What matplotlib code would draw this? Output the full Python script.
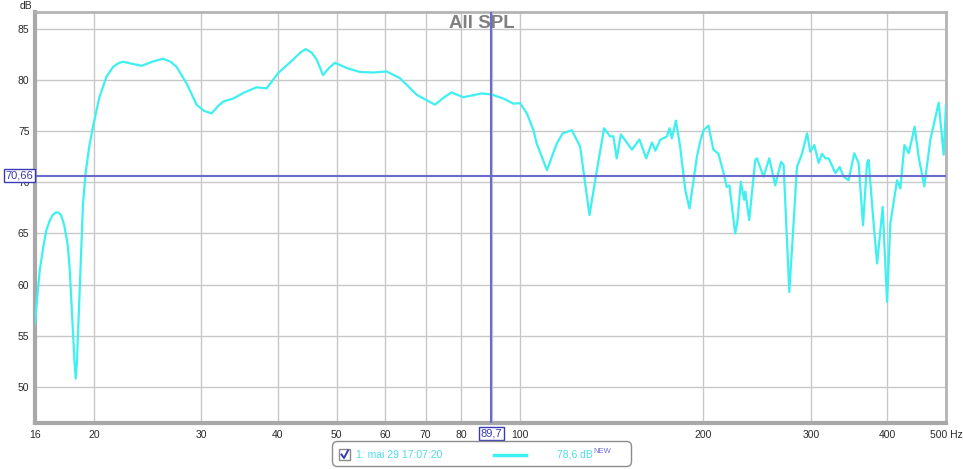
import matplotlib
matplotlib.use("Agg")
import matplotlib.pyplot as plt
from matplotlib.patches import FancyBboxPatch, Rectangle

plt.rcParams['font.family'] = ['Liberation Sans', 'DejaVu Sans']

# measured SPL curve (Hz, dB)
freq = [16.0, 16.15, 16.29, 16.5, 16.7, 16.9, 17.1, 17.3, 17.46, 17.65,
        17.85, 18.0, 18.12, 18.25, 18.36, 18.48, 18.58, 18.66, 18.75, 18.85,
        18.95, 19.07, 19.18, 19.38, 19.65, 19.92, 20.4, 20.96, 21.5, 21.9,
        22.32, 23.1, 23.93, 24.9, 25.96, 26.7, 27.32, 28.36, 29.46, 30.3,
        31.18, 32.0, 32.57, 33.83, 35.3, 36.96, 38.39, 40.1, 42.4, 43.6,
        44.5, 45.5, 46.4, 47.5, 48.6, 49.7, 51.9, 54.6, 57.5, 60.4,
        63.5, 67.7, 72.5, 75.0, 77.2, 80.7, 86.5, 89.8, 93.9, 97.5,
        100.0, 102.6, 105.2, 106.5, 110.7, 114.9, 117.5, 121.6, 125.5, 130.0,
        133.7, 137.4, 140.5, 142.3, 144.1, 146.4, 152.6, 157.0, 161.1, 164.6,
        166.8, 169.8, 174.2, 175.9, 177.5, 180.2, 183.1, 186.7, 189.7, 195.1,
        197.5, 200.0, 203.8, 207.6, 211.6, 215.8, 218.4, 220.6, 225.4, 227.3,
        230.3, 233.2, 234.2, 237.7, 243.2, 244.8, 250.9, 256.4, 262.3, 268.1,
        270.7, 276.6, 281.1, 284.7, 290.2, 295.8, 299.4, 304.0, 309.0, 313.0,
        316.9, 321.0, 329.2, 334.6, 339.7, 346.0, 353.6, 359.4, 365.4, 371.0,
        373.2, 379.6, 385.4, 393.6, 400.2, 405.2, 415.6, 420.8, 427.3, 434.3,
        444.2, 450.8, 460.6, 471.2, 486.4, 495.6, 500.0]
spl = [56.2, 59.0, 61.4, 63.6, 65.3, 66.2, 66.8, 67.05, 67.06, 66.8,
       65.9, 64.8, 63.7, 61.3, 58.2, 55.0, 52.3, 50.8, 52.5, 56.2,
       59.8, 64.0, 67.9, 71.0, 73.6, 75.45, 78.3, 80.35, 81.3, 81.65,
       81.8, 81.6, 81.4, 81.8, 82.1, 81.8, 81.3, 79.7, 77.6, 77.0,
       76.75, 77.5, 77.9, 78.2, 78.8, 79.3, 79.2, 80.7, 82.0, 82.7,
       83.04, 82.7, 82.0, 80.5, 81.2, 81.7, 81.2, 80.8, 80.75, 80.85,
       80.2, 78.56, 77.6, 78.3, 78.8, 78.33, 78.7, 78.6, 78.2, 77.7,
       77.75, 76.76, 75.1, 73.8, 71.2, 73.8, 74.8, 75.1, 73.5, 66.8,
       71.2, 75.3, 74.5, 74.5, 72.35, 74.7, 73.2, 74.2, 72.35, 73.9,
       73.1, 74.15, 74.5, 75.3, 74.3, 76.04, 73.5, 69.25, 67.45, 72.5,
       74.0, 75.1, 75.55, 73.2, 72.8, 70.9, 69.55, 69.7, 65.0, 66.1,
       70.06, 68.3, 69.1, 66.3, 72.2, 72.35, 70.55, 72.35, 69.7, 72.0,
       71.7, 59.27, 66.0, 71.5, 72.8, 74.8, 73.0, 73.65, 71.9, 72.8,
       72.35, 72.35, 70.9, 71.5, 70.55, 70.2, 72.85, 71.9, 65.8, 71.9,
       72.2, 66.6, 62.06, 67.6, 58.3, 66.0, 70.2, 69.4, 73.65, 72.85,
       75.45, 72.5, 69.6, 74.15, 77.8, 72.7, 77.6]

xticks = [16, 20, 30, 40, 50, 60, 70, 80, 90, 100, 200, 300, 400, 500]
# the 90 label sits under the cursor readout box
xlabels = ['16', '20', '30', '40', '50', '60', '70', '80', '', '100',
           '200', '300', '400', '500 Hz']
yticks = [50, 55, 60, 65, 70, 75, 80, 85]

cursor_freq = 89.7
cursor_level = 70.66
legend_name = '1: mai 29 17:07:20'
legend_value = '78,6 dB'

curve_color = '#3ff0f0'
cursor_color = '#6b6bcf'
box_text = '#3a3ab8'

W, H = 963, 469
fig = plt.figure(figsize=(W / 100, H / 100), dpi=100)
ax = fig.add_axes([35 / W, 1 - 423 / H, 911 / W, 411 / H])

ax.set_xscale('log')
ax.set_xlim(16, 500)
ax.set_ylim(46.45, 86.67)
ax.set_xticks(xticks)
ax.set_xticklabels(xlabels)
ax.xaxis.set_minor_locator(matplotlib.ticker.NullLocator())
ax.set_yticks(yticks)
ax.tick_params(length=0, labelsize=7.5, labelcolor='#2a2a2a')
ax.tick_params(axis='x', pad=5)
ax.tick_params(axis='y', pad=4)
ax.grid(True, color='#c8c8c8', lw=1)
ax.set_axisbelow(True)

for side in ['left', 'bottom']:
    ax.spines[side].set_color('#a8a8a8')
    ax.spines[side].set_linewidth(3)
for side in ['top', 'right']:
    ax.spines[side].set_color('#b4b4b4')
    ax.spines[side].set_linewidth(2)

ax.plot(freq, spl, color=curve_color, lw=1.6, zorder=3)

# cursor
ax.axhline(cursor_level, color=cursor_color, lw=1.5, zorder=4)
ax.axvline(cursor_freq, color=cursor_color, lw=1.5, zorder=4)
boxprops = dict(boxstyle='square,pad=0.15', fc='white', ec=box_text, lw=1)
ax.annotate(f'{cursor_level:.2f}'.replace('.', ','), xy=(0, cursor_level),
            xycoords=('axes fraction', 'data'), xytext=(-1.5, 0),
            textcoords='offset points', ha='right', va='center',
            fontsize=8, color=box_text, bbox=boxprops, zorder=6,
            annotation_clip=False)
ax.annotate(f'{cursor_freq:.1f}'.replace('.', ','), xy=(cursor_freq, 0),
            xycoords=('data', 'axes fraction'), xytext=(0, -7.5),
            textcoords='offset points', ha='center', va='center',
            fontsize=8, color=box_text, bbox=boxprops, zorder=6,
            annotation_clip=False)

fig.text(26 / W, 1 - 6 / H, 'dB', ha='center', va='center',
         fontsize=7.5, color='#2a2a2a')
fig.text(0.5, 1 - 24 / H, 'All SPL', ha='center', va='center',
         fontsize=13.5, weight='bold', color='#808080')

# legend strip
lax = fig.add_axes([332 / W, 2 / H, 300 / W, 26 / H])
lax.set_xlim(0, 300)
lax.set_ylim(0, 26)
lax.axis('off')
lax.add_patch(FancyBboxPatch((0.5, 0.5), 299, 25,
                             boxstyle='round,pad=0,rounding_size=5',
                             fc='white', ec='#8c8c8c', lw=1, clip_on=False))
lax.add_patch(Rectangle((7, 7), 11, 11, fc='white', ec='#8a8a8a', lw=1))
lax.plot([9.5, 12, 16], [12.5, 9, 16.5], color='#3a3ab8', lw=1.4)
lax.text(24, 12.5, legend_name, ha='left', va='center', fontsize=7.5,
         color='#4fdce8')
lax.plot([162, 194], [12.5, 12.5], color=curve_color, lw=2.5)
lax.text(225, 12.5, legend_value, ha='left', va='center', fontsize=7.5,
         color='#4fdce8')
lax.text(261, 15.5, 'NEW', ha='left', va='center', fontsize=5.5,
         color='#6a6ad0')

fig.savefig('out.png', dpi=100)
